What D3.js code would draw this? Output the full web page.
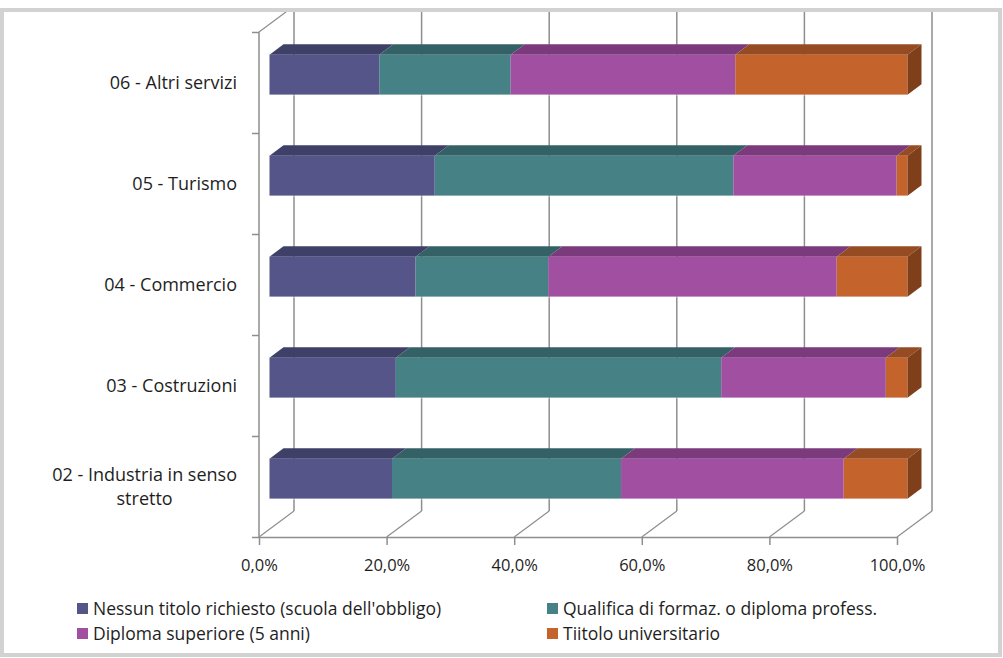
<!DOCTYPE html>
<html>
<head>
<meta charset="utf-8">
<script src="https://cdn.jsdelivr.net/npm/d3@7"></script>
<style>
  html, body { margin: 0; padding: 0; background: #fff; }
  svg { display: block; }
  text { font-family: "Open Sans", "Noto Sans", sans-serif; fill: #1e1e1e; }
</style>
</head>
<body>
<svg id="chart" width="1003" height="658"></svg>
<script>
// Sectors, top to bottom
const categories = [
  "06 - Altri servizi",
  "05 - Turismo",
  "04 - Commercio",
  "03 - Costruzioni",
  "02 - Industria in senso stretto"
];
// Share of hires by education level (%), one list per series, same order as categories
const nessunTitolo   = [17.2, 25.9, 22.9, 19.8, 19.2];
const qualifica      = [20.6, 46.8, 20.8, 51.0, 35.9];
const diplomaSup     = [35.2, 25.6, 45.2, 25.8, 34.9];
const titoloUniv     = [27.0,  1.7, 11.1,  3.4, 10.0];

const seriesNames = [
  "Nessun titolo richiesto (scuola dell'obbligo)",
  "Qualifica di formaz. o diploma profess.",
  "Diploma superiore (5 anni)",
  "Tiitolo universitario"
];
const xTickValues = [0, 20, 40, 60, 80, 100];

// front face, top face, side face shades per series
const palette = [
  { front: "#55558a", top: "#3f4068", side: "#35365a" },
  { front: "#468185", top: "#346166", side: "#2b5155" },
  { front: "#a14fa1", top: "#7b3a7c", side: "#68306a" },
  { front: "#c5632d", top: "#964c22", side: "#7f3f1b" }
];

const svg = d3.select("#chart");

// Plot geometry: front plane of the floor and depth vector of the box
const x = d3.scaleLinear().domain([0, 100]).range([259, 897]);
const y = d3.scaleBand().domain(categories).range([32, 537]).paddingInner(0).paddingOuter(0);
const DX = 35, DY = -26;              // full depth offset of the walls
const z0 = 0.3, z1 = 0.7;             // bar depth span
const barH = 40;

const itLocale = d3.formatLocale({ decimal: ",", thousands: ".", grouping: [3], currency: ["€", ""] });
const pct = v => itLocale.format(".1f")(v) + "%";

const P = (px, py, z) => [px + z * DX, py + z * DY];

// clip everything drawn in the 3D box below the frame
svg.append("defs").append("clipPath").attr("id", "plotClip")
  .append("rect").attr("x", 0).attr("y", 12).attr("width", 1003).attr("height", 646);

const box = svg.append("g").attr("clip-path", "url(#plotClip)");
const lineCol = "#8e8e8e";

// back wall vertical gridlines
box.append("g").selectAll("line").data(xTickValues).join("line")
  .attr("x1", d => x(d) + DX).attr("x2", d => x(d) + DX)
  .attr("y1", 0).attr("y2", y.range()[1] + DY)
  .attr("stroke", lineCol).attr("stroke-width", 1.5);

// floor gridlines (front tick to back wall)
box.append("g").selectAll("line").data(xTickValues).join("line")
  .attr("x1", d => x(d)).attr("y1", y.range()[1])
  .attr("x2", d => x(d) + DX).attr("y2", y.range()[1] + DY)
  .attr("stroke", lineCol).attr("stroke-width", 1.2);

// left wall: front vertical edge and top diagonal
const yTop = y.range()[0], yBot = y.range()[1];
box.append("line")
  .attr("x1", x(0)).attr("x2", x(0)).attr("y1", yTop).attr("y2", yBot)
  .attr("stroke", lineCol).attr("stroke-width", 1.5);
box.append("line")
  .attr("x1", x(0)).attr("y1", yTop).attr("x2", x(0) + DX).attr("y2", yTop + DY)
  .attr("stroke", lineCol).attr("stroke-width", 1.2);

// left axis ticks at band boundaries
const yEdges = d3.scaleLinear().domain([0, categories.length]).range([yBot, yTop]);
const yAxis = d3.axisLeft(yEdges).ticks(categories.length).tickSize(7).tickFormat("");
const gy = box.append("g").attr("transform", `translate(${x(0)},0)`).call(yAxis);
gy.select(".domain").remove();
gy.selectAll(".tick line").attr("stroke", lineCol).attr("stroke-width", 1.5);

// front x axis with percent labels
const xAxis = d3.axisBottom(x).tickValues(xTickValues).tickSize(8).tickSizeOuter(0)
  .tickPadding(14).tickFormat(pct);
const gx = svg.append("g").attr("transform", `translate(0,${yBot})`).call(xAxis);
gx.select(".domain").attr("stroke", lineCol).attr("stroke-width", 1.5);
gx.selectAll(".tick line").attr("stroke", lineCol).attr("stroke-width", 1.5);
gx.selectAll(".tick text").attr("font-size", 16.5).attr("font-family", "'Open Sans', sans-serif")
  .attr("fill", "#1e1e1e");

// stacked 3D bars
const table = categories.map((c, i) => ({
  cat: c, v: [nessunTitolo[i], qualifica[i], diplomaSup[i], titoloUniv[i]]
}));
const stack = d3.stack().keys([0, 1, 2, 3]).value((d, k) => d.v[k]);
const layers = stack(table);

const bars = svg.append("g");
table.forEach((row, i) => {
  const cy = y(row.cat) + y.bandwidth() / 2;
  const t = cy - barH / 2, b = cy + barH / 2;
  const g = bars.append("g");
  // top faces first
  layers.forEach((layer, k) => {
    const [a, e] = layer[i];
    const pts = [P(x(a), t, z0), P(x(e), t, z0), P(x(e), t, z1), P(x(a), t, z1)];
    g.append("polygon").attr("points", pts.map(p => p.join(",")).join(" "))
      .attr("fill", palette[k].top);
  });
  // front faces
  layers.forEach((layer, k) => {
    const [a, e] = layer[i];
    const p0 = P(x(a), t, z0), p1 = P(x(e), b, z0);
    g.append("rect").attr("x", p0[0]).attr("y", p0[1])
      .attr("width", p1[0] - p0[0]).attr("height", p1[1] - p0[1])
      .attr("fill", palette[k].front);
  });
  // right end face of the last segment
  const last = layers[layers.length - 1][i][1];
  const side = [P(x(last), t, z0), P(x(last), t, z1), P(x(last), b, z1), P(x(last), b, z0)];
  g.append("polygon").attr("points", side.map(p => p.join(",")).join(" "))
    .attr("fill", palette[3].side);
  // soft highlight along the bottom edge
  const bl = P(x(0), b, z0), br = P(x(last), b, z0);
  g.append("line").attr("x1", bl[0]).attr("x2", br[0]).attr("y1", bl[1] + 0.5).attr("y2", br[1] + 0.5)
    .attr("stroke", "#ffffff").attr("stroke-opacity", 0.45).attr("stroke-width", 1);
});

// category labels (long names wrap onto two centred lines)
const labelX = 237;
const wrapped = { "02 - Industria in senso stretto": ["02 - Industria in senso", "stretto"] };
const labels = svg.append("g").attr("font-size", 18);
categories.forEach(c => {
  const cy = y(c) + y.bandwidth() / 2;
  const lines = wrapped[c] || [c];
  if (lines.length === 1) {
    labels.append("text").attr("x", labelX).attr("y", cy).attr("dy", "0.35em")
      .attr("text-anchor", "end").text(c);
  } else {
    const tmp = labels.append("text").attr("x", labelX).attr("y", cy - 12).attr("dy", "0.35em")
      .attr("text-anchor", "end").text(lines[0]);
    const w = tmp.node().getComputedTextLength();
    labels.append("text").attr("x", labelX - w / 2).attr("y", cy + 12).attr("dy", "0.35em")
      .attr("text-anchor", "middle").text(lines[1]);
  }
});

// legend
const legendPos = [[77, 609], [547, 609], [77, 634], [547, 634]];
const legend = svg.append("g").attr("font-size", 17.5);
seriesNames.forEach((name, k) => {
  const [lx, ly] = legendPos[k];
  legend.append("rect").attr("x", lx).attr("y", ly - 6).attr("width", 11).attr("height", 11)
    .attr("fill", palette[k].front);
  legend.append("text").attr("x", lx + 16).attr("y", ly).attr("dy", "0.35em").text(name);
});

// chart frame
svg.append("rect").attr("x", 2).attr("y", 10).attr("width", 998).attr("height", 645)
  .attr("fill", "none").attr("stroke", "#d2d2d2").attr("stroke-width", 4);
</script>
</body>
</html>
